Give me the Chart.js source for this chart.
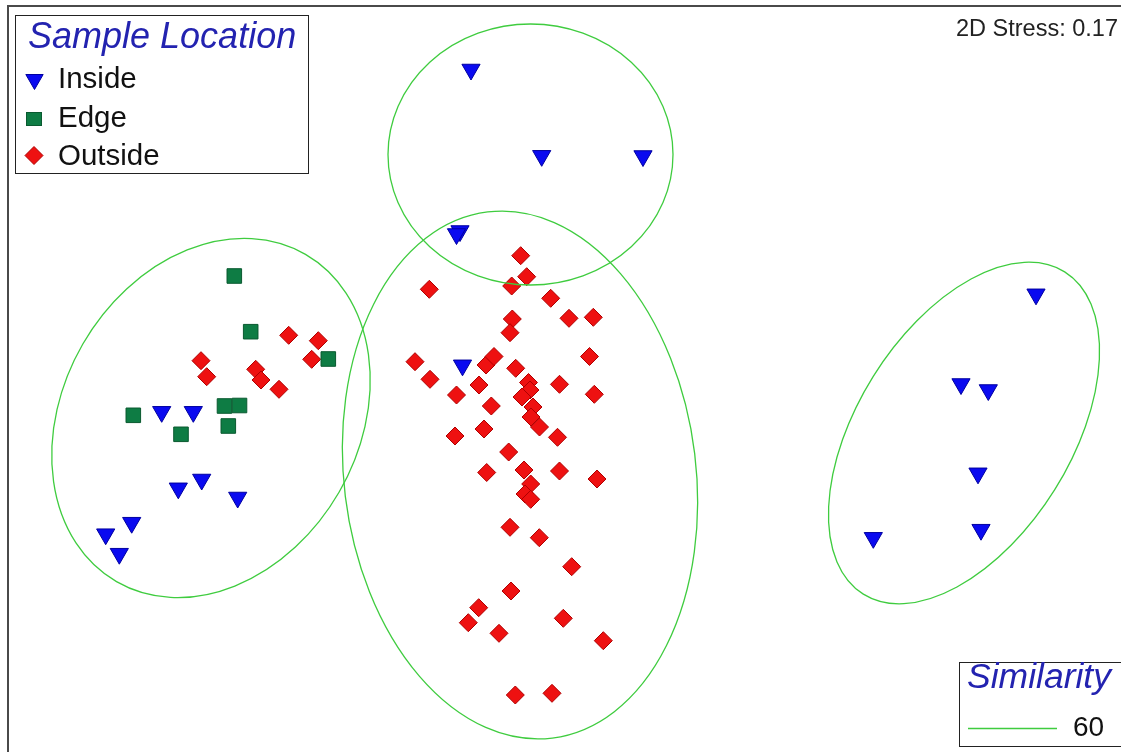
<!DOCTYPE html>
<html>
<head>
<meta charset="utf-8">
<title>nMDS ordination</title>
<script src="https://cdn.jsdelivr.net/npm/chart.js@4.4.1/dist/chart.umd.min.js"></script>
<style>
  html, body { margin: 0; padding: 0; background: #ffffff; }
  #wrap { position: relative; width: 1121px; height: 752px; }
</style>
</head>
<body>
<div id="wrap"><canvas id="mds" width="1121" height="752"></canvas></div>
<script>
// nMDS coordinates (MDS1, MDS2) of each sample, grouped by location
const inside = [
  [-0.89, 3.065], [-0.183, 2.202], [0.83, 2.20], [-1.00, 1.45], [-1.035, 1.42],
  [-0.975, 0.107],
  [-3.983, -0.358], [-3.667, -0.358], [-3.817, -1.123], [-3.583, -1.035],
  [-3.223, -1.215], [-4.283, -1.467], [-4.543, -1.582], [-4.407, -1.777],
  [4.76, 0.817], [4.01, -0.08], [4.283, -0.14], [4.18, -0.973], [4.21, -1.537], [3.133, -1.618]
];
const edge = [
  [-3.257, 1.00], [-3.093, 0.443], [-2.317, 0.17], [-4.267, -0.393],
  [-3.79, -0.583], [-3.355, -0.30], [-3.205, -0.295], [-3.317, -0.50]
];
const outside = [
  [-3.59, 0.153], [-3.533, -0.007], [-2.713, 0.407], [-2.417, 0.353],
  [-2.483, 0.167], [-3.043, 0.067], [-2.99, -0.04], [-2.81, -0.133],
  [-0.393, 1.203], [-0.333, 0.993], [-0.483, 0.90], [-1.307, 0.867], [-0.093, 0.777],
  [-0.477, 0.57], [-0.50, 0.433], [0.09, 0.577], [0.333, 0.587], [0.295, 0.195],
  [-1.45, 0.143], [-1.30, -0.033], [-0.74, 0.11], [-0.66, 0.195], [-0.443, 0.077],
  [-0.81, -0.09], [-1.035, -0.19], [-0.315, -0.065], [-0.30, -0.14], [-0.38, -0.21],
  [-0.005, -0.083], [0.343, -0.183], [-0.687, -0.30], [-0.27, -0.31], [-0.29, -0.41],
  [-0.205, -0.51], [-0.76, -0.53], [-1.05, -0.60], [-0.025, -0.613], [-0.513, -0.76],
  [-0.733, -0.965], [-0.36, -0.94], [-0.005, -0.95], [0.37, -1.03], [-0.293, -1.08],
  [-0.35, -1.18], [-0.293, -1.233], [-0.50, -1.513], [-0.207, -1.617], [0.117, -1.907],
  [-0.49, -2.15], [-0.813, -2.317], [-0.917, -2.467], [-0.61, -2.573], [0.033, -2.423],
  [0.433, -2.647], [-0.447, -3.19], [-0.08, -3.173]
];

// Cluster contours at 60 % similarity: centre, semi-axes and tilt (degrees)
const contourCx   = [-0.295, -0.40, -3.49, 4.04];
const contourCy   = [2.215, -0.99, -0.42, -0.57];
const contourRx   = [1.425, 1.76, 1.89, 1.90];
const contourRy   = [1.305, 2.65, 1.48, 1.07];
const contourTilt = [0, 7, 60, 58];

const groupNames = ['Inside', 'Edge', 'Outside'];
const similarityLevels = ['60'];
const stressText = '2D Stress: 0.17';

const BLUE = '#0a0af0', GREEN = '#0e7c44', RED = '#ee1111', CONTOUR = '#3fcc3f';
const TEXT_BLUE = '#2323b0';

const toPts = arr => arr.map(p => ({ x: p[0], y: p[1] }));

function markerTriangle(ctx, x, y, r, fill, stroke) {
  ctx.beginPath();
  ctx.moveTo(x, y + r);
  ctx.lineTo(x - r * Math.sqrt(3) / 2, y - r / 2);
  ctx.lineTo(x + r * Math.sqrt(3) / 2, y - r / 2);
  ctx.closePath();
  ctx.fillStyle = fill; ctx.fill();
  ctx.strokeStyle = stroke; ctx.lineWidth = 1; ctx.stroke();
}
function markerSquare(ctx, x, y, w, h, fill, stroke) {
  ctx.fillStyle = fill; ctx.fillRect(x - w / 2, y - h / 2, w, h);
  ctx.strokeStyle = stroke; ctx.lineWidth = 1; ctx.strokeRect(x - w / 2, y - h / 2, w, h);
}
function markerDiamond(ctx, x, y, r, fill, stroke) {
  ctx.beginPath();
  ctx.moveTo(x, y - r); ctx.lineTo(x + r, y); ctx.lineTo(x, y + r); ctx.lineTo(x - r, y);
  ctx.closePath();
  ctx.fillStyle = fill; ctx.fill();
  ctx.strokeStyle = stroke; ctx.lineWidth = 1; ctx.stroke();
}

const paperPlugin = {
  id: 'paper',
  beforeDraw(chart) {
    const ctx = chart.ctx;
    ctx.save();
    ctx.fillStyle = '#ffffff';
    ctx.fillRect(0, 0, chart.width, chart.height);
    ctx.restore();
  }
};

const contourPlugin = {
  id: 'contours',
  afterDatasetsDraw(chart) {
    const ctx = chart.ctx, sx = chart.scales.x, sy = chart.scales.y;
    ctx.save();
    ctx.strokeStyle = CONTOUR;
    ctx.lineWidth = 1.3;
    for (let i = 0; i < contourCx.length; i++) {
      const cx = sx.getPixelForValue(contourCx[i]);
      const cy = sy.getPixelForValue(contourCy[i]);
      const rx = Math.abs(sx.getPixelForValue(contourCx[i] + contourRx[i]) - cx);
      const ry = Math.abs(sy.getPixelForValue(contourCy[i] + contourRy[i]) - cy);
      ctx.beginPath();
      ctx.ellipse(cx, cy, rx, ry, -contourTilt[i] * Math.PI / 180, 0, 2 * Math.PI);
      ctx.stroke();
    }
    ctx.restore();
  }
};

const annotationPlugin = {
  id: 'annotations',
  afterDraw(chart) {
    const ctx = chart.ctx;
    ctx.save();
    // outer frame
    ctx.strokeStyle = '#4a4a4a';
    ctx.lineWidth = 2;
    ctx.strokeRect(8, 6, 1200, 800);

    // group legend
    ctx.lineWidth = 1;
    ctx.strokeStyle = '#222222';
    ctx.fillStyle = '#ffffff';
    ctx.fillRect(15.5, 15.5, 293, 158);
    ctx.strokeRect(15.5, 15.5, 293, 158);
    ctx.textBaseline = 'alphabetic';
    ctx.textAlign = 'left';
    ctx.fillStyle = TEXT_BLUE;
    ctx.font = 'italic 36px "Liberation Sans", Arial, sans-serif';
    ctx.fillText('Sample Location', 28, 48);

    markerTriangle(ctx, 34.5, 79.5, 10, BLUE, '#0000a0');
    markerSquare(ctx, 34, 119, 15, 13, GREEN, '#0a5a30');
    markerDiamond(ctx, 34, 155.5, 9, RED, '#b00000');
    ctx.fillStyle = '#111111';
    ctx.font = '29.5px "Liberation Sans", Arial, sans-serif';
    ctx.fillText(groupNames[0], 58, 88);
    ctx.fillText(groupNames[1], 58, 127);
    ctx.fillText(groupNames[2], 58, 165);

    // stress value
    ctx.fillStyle = '#222222';
    ctx.font = '23.5px "Liberation Sans", Arial, sans-serif';
    ctx.fillText(stressText, 956, 36);

    // similarity legend
    ctx.strokeStyle = '#222222';
    ctx.fillStyle = '#ffffff';
    ctx.fillRect(959.5, 662.5, 200, 84);
    ctx.strokeRect(959.5, 662.5, 200, 84);
    ctx.fillStyle = TEXT_BLUE;
    ctx.font = 'italic 35.5px "Liberation Sans", Arial, sans-serif';
    ctx.fillText('Similarity', 967, 688);
    ctx.strokeStyle = CONTOUR;
    ctx.lineWidth = 1.5;
    ctx.beginPath();
    ctx.moveTo(968, 728.5); ctx.lineTo(1057, 728.5);
    ctx.stroke();
    ctx.fillStyle = '#111111';
    ctx.font = '28px "Liberation Sans", Arial, sans-serif';
    ctx.fillText(similarityLevels[0], 1073, 736);
    ctx.restore();
  }
};

new Chart(document.getElementById('mds'), {
  type: 'scatter',
  data: {
    datasets: [
      {
        label: groupNames[0], data: toPts(inside),
        pointStyle: 'triangle', rotation: 180, radius: 10.5, hoverRadius: 10.5,
        backgroundColor: BLUE, borderColor: '#0000a0', borderWidth: 1
      },
      {
        label: groupNames[1], data: toPts(edge),
        pointStyle: 'rect', radius: 10.3, hoverRadius: 10.3,
        backgroundColor: GREEN, borderColor: '#0a5a30', borderWidth: 1
      },
      {
        label: groupNames[2], data: toPts(outside),
        pointStyle: 'rectRot', radius: 9, hoverRadius: 9,
        backgroundColor: RED, borderColor: '#b00000', borderWidth: 1
      }
    ]
  },
  options: {
    responsive: false,
    devicePixelRatio: 1,
    animation: false,
    events: [],
    layout: { padding: 0, autoPadding: false },
    scales: {
      x: { type: 'linear', display: false, min: -5.60, max: 5.61 },
      y: { type: 'linear', display: false, min: -3.76, max: 3.76 }
    },
    plugins: {
      legend: { display: false },
      tooltip: { enabled: false }
    }
  },
  plugins: [paperPlugin, contourPlugin, annotationPlugin]
});
</script>
</body>
</html>
